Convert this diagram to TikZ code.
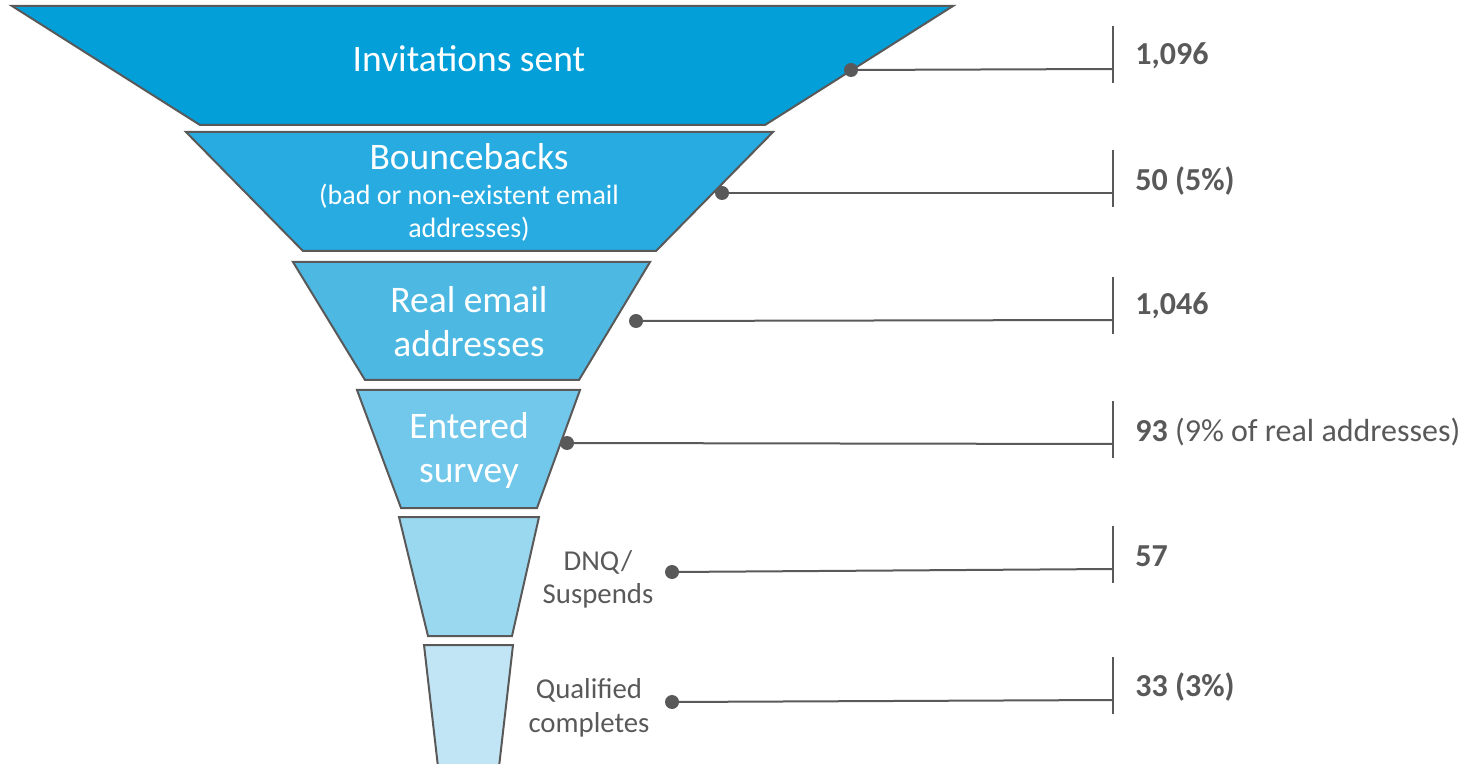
\documentclass[tikz,border=0pt]{standalone}
\usepackage{fontspec}
\setmainfont{Carlito}
\definecolor{c1}{RGB}{2,159,217}
\definecolor{c2}{RGB}{39,171,224}
\definecolor{c3}{RGB}{77,185,227}
\definecolor{c4}{RGB}{114,200,235}
\definecolor{c5}{RGB}{154,216,240}
\definecolor{c6}{RGB}{193,229,245}
\definecolor{edge}{RGB}{89,89,89}
\definecolor{txtgray}{RGB}{89,89,89}
\tikzset{
  stage/.style={draw=edge, line width=1pt, line join=miter},
  bigtxt/.style={anchor=base, text=white, inner sep=0pt, font=\fontsize{18.75}{22}\selectfont},
  subtxt/.style={anchor=base, text=white, inner sep=0pt, font=\fontsize{14}{17}\selectfont},
  sidetxt/.style={anchor=base, text=txtgray, inner sep=0pt, font=\fontsize{14.4}{17}\selectfont},
  numtxt/.style={anchor=base west, text=txtgray, inner sep=0pt, font=\fontsize{16}{19}\selectfont},
  leader/.style={draw=edge, line width=1pt},
  dot/.style={fill=edge, draw=none},
}
\begin{document}
\begin{tikzpicture}[x=0.5pt,y=-0.5pt]
\useasboundingbox (0,0) rectangle (1477,764);
\begin{scope}
\clip (0,0) rectangle (1477,764);
% funnel stages
\path[stage, fill=c1] (12,6) -- (953,6) -- (765,125) -- (200,125) -- cycle;
\path[stage, fill=c2] (186,132) -- (773,132) -- (656,251) -- (303,251) -- cycle;
\path[stage, fill=c3] (293,262) -- (650,262) -- (579,380) -- (365,380) -- cycle;
\path[stage, fill=c4] (357,390) -- (580,390) -- (537,508) -- (401,508) -- cycle;
\path[stage, fill=c5] (399,517) -- (539,517) -- (512,636) -- (428,636) -- cycle;
\path[stage, fill=c6] (424,645) -- (513,645) -- (497.5,780) -- (439.5,780) -- cycle;
\end{scope}
% stage labels
\node[bigtxt] (t1) at (469,72) {Invitations sent};
\node[bigtxt] (t2) at (469,170) {Bouncebacks};
\node[subtxt] (t2a) at (469,205) {(bad or non-existent email};
\node[subtxt] (t2b) at (469,238) {addresses)};
\node[bigtxt] (t3a) at (469,313) {Real email};
\node[bigtxt] (t3b) at (469,357) {addresses};
\node[bigtxt] (t4a) at (469,438) {Entered};
\node[bigtxt] (t4b) at (469,482) {survey};
\node[sidetxt] (t5a) at (598,570) {DNQ/};
\node[sidetxt] (t5b) at (598,603) {Suspends};
\node[sidetxt] (t6a) at (589,698) {Qualified};
\node[sidetxt] (t6b) at (589,732) {completes};
% leader points
\coordinate (d1) at (851,70);  \coordinate (e1) at (1113,69);
\coordinate (d2) at (722,193); \coordinate (e2) at (1113,193);
\coordinate (d3) at (636,321); \coordinate (e3) at (1113,320);
\coordinate (d4) at (567,443); \coordinate (e4) at (1113,444);
\coordinate (d5) at (672,572); \coordinate (e5) at (1113,569);
\coordinate (d6) at (672,702); \coordinate (e6) at (1113,700);
\foreach \i in {1,...,6}{
  \draw[leader] (d\i) -- (e\i);
  \draw[leader] ([yshift=21.5pt]e\i) -- ([yshift=-7pt]e\i);
  \fill[dot] (d\i) circle[radius=3.5pt];
}
% values
\node[numtxt] (n1) at (1135,65) {\textbf{1,096}};
\node[numtxt] (n2) at (1135,191) {\textbf{50 (5\%)}};
\node[numtxt] (n3) at (1135,315) {\textbf{1,046}};
\node[numtxt] (n4) at (1135,441) {\textbf{93} (9\% of real addresses)};
\node[numtxt] (n5) at (1135,566) {\textbf{57}};
\node[numtxt] (n6) at (1135,696) {\textbf{33 (3\%)}};
\end{tikzpicture}
\end{document}
